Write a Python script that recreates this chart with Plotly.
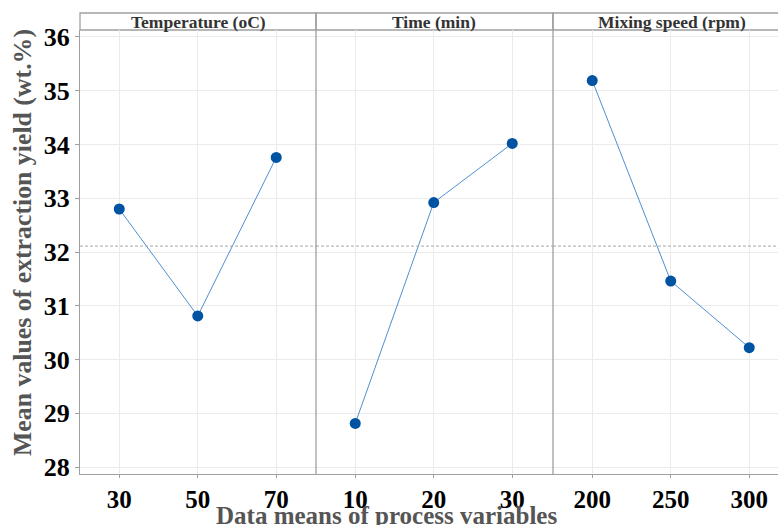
import plotly.graph_objects as go

# ---- data ----
panels = ["Temperature (oC)", "Time (min)", "Mixing speed (rpm)"]
temp_levels = ["30", "50", "70"]
temp_means = [32.80, 30.81, 33.76]
time_levels = ["10", "20", "30"]
time_means = [28.81, 32.92, 34.02]
speed_levels = ["200", "250", "300"]
speed_means = [35.19, 31.46, 30.22]
grand_mean = 32.11
y_ticks = [28, 29, 30, 31, 32, 33, 34, 35, 36]

FONT = "Liberation Serif, Times New Roman, serif"
W, H = 778, 525
ML, MR, MT, MB = 80, 0, 13, 51
plot_w = W - ML - MR
plot_h = H - MT - MB
# pixel boundaries of panels
px_bounds = [80, 316, 553, 778]
dom = [((px_bounds[i] - ML) / plot_w, (px_bounds[i + 1] - ML) / plot_w) for i in range(3)]
y_top = (474 - 30) / plot_h  # top of data area (below strip)

fig = go.Figure()
series = [(temp_levels, temp_means), (time_levels, time_means), (speed_levels, speed_means)]
for i, (lv, mv) in enumerate(series):
    ax = "" if i == 0 else str(i + 1)
    fig.add_trace(go.Scatter(
        x=lv, y=mv, mode="lines+markers",
        line=dict(color="#4f8fd2", width=1),
        marker=dict(color="#0052a3", size=11),
        xaxis="x" + ax, yaxis="y" + ax, showlegend=False, hoverinfo="x+y"))

unit_px = 78.5
layout = dict(
    width=W, height=H,
    margin=dict(l=ML, r=MR, t=MT, b=MB),
    paper_bgcolor="white", plot_bgcolor="white",
    font=dict(family=FONT),
    showlegend=False,
)
for i in range(3):
    ax = "" if i == 0 else str(i + 1)
    width_px = px_bounds[i + 1] - px_bounds[i]
    rng_hi = -0.5 + width_px / unit_px
    layout["xaxis" + ax] = dict(
        domain=list(dom[i]), anchor="y" + ax, type="category",
        categoryorder="array", categoryarray=series[i][0],
        range=[-0.5, rng_hi], showgrid=True, gridcolor="#ebebeb", gridwidth=1,
        zeroline=False, showline=True, linecolor="#a0a0a0", linewidth=1,
        ticks="outside", ticklen=3, tickcolor="#a0a0a0",
        tickfont=dict(family=FONT, size=25, color="black", weight="bold"),
        fixedrange=True)
    layout["yaxis" + ax] = dict(
        domain=[0, y_top], anchor="x" + ax, range=[27.87, 36.13],
        tickvals=y_ticks, showgrid=True, gridcolor="#ebebeb", gridwidth=1,
        zeroline=False, showline=(i == 0), linecolor="#a0a0a0", linewidth=1,
        ticks="outside" if i == 0 else "", ticklen=4, tickcolor="#a0a0a0",
        showticklabels=(i == 0),
        tickfont=dict(family=FONT, size=26, color="black", weight="bold"),
        fixedrange=True)
    if i > 0:
        layout["yaxis" + ax]["matches"] = "y"
fig.update_layout(**layout)

shapes = []
# dashed grand mean line across all panels
for i in range(3):
    ax = "" if i == 0 else str(i + 1)
    shapes.append(dict(type="line", xref="x" + ax + " domain", yref="y" + ax,
                       x0=0, x1=1, y0=grand_mean, y1=grand_mean,
                       line=dict(color="#a8a8a8", width=1, dash="3px,2px")))
# strips and panel dividers
for i in range(3):
    x0, x1 = dom[i]
    shapes.append(dict(type="rect", xref="paper", yref="paper", x0=x0, x1=x1 + 0.01 * (i == 2),
                       y0=y_top, y1=1, line=dict(color="#a0a0a0", width=1.3),
                       fillcolor="white", layer="below"))
    if i > 0:
        shapes.append(dict(type="line", xref="paper", yref="paper", x0=x0, x1=x0,
                           y0=0, y1=1, line=dict(color="#a0a0a0", width=1.3)))
fig.update_layout(shapes=shapes)

annotations = []
for i, name in enumerate(panels):
    x0, x1 = dom[i]
    if i == 2:
        cx = (px_bounds[2] + 790) / 2
        cxp = (cx - ML) / plot_w
    else:
        cxp = (x0 + x1) / 2
    annotations.append(dict(text=name, xref="paper", yref="paper", x=cxp,
                            y=(y_top + 1) / 2, xanchor="center", yanchor="middle",
                            showarrow=False,
                            font=dict(family=FONT, size=17.5, color="#333333", weight="bold")))
annotations.append(dict(text="Mean values of extraction yield (wt.%)", xref="paper", yref="paper",
                        x=(22 - ML) / plot_w, y=(474 - 243) / plot_h, textangle=-90,
                        xanchor="center", yanchor="middle", showarrow=False,
                        font=dict(family=FONT, size=25.8, color="#555555", weight="bold")))
annotations.append(dict(text="Data means of process variables", xref="paper", yref="paper",
                        x=(386 - ML) / plot_w, y=(474 - 515) / plot_h,
                        xanchor="center", yanchor="middle", showarrow=False,
                        font=dict(family=FONT, size=25, color="#555555", weight="bold")))
fig.update_layout(annotations=annotations)

fig.write_html("out.html", config={"displayModeBar": False})
